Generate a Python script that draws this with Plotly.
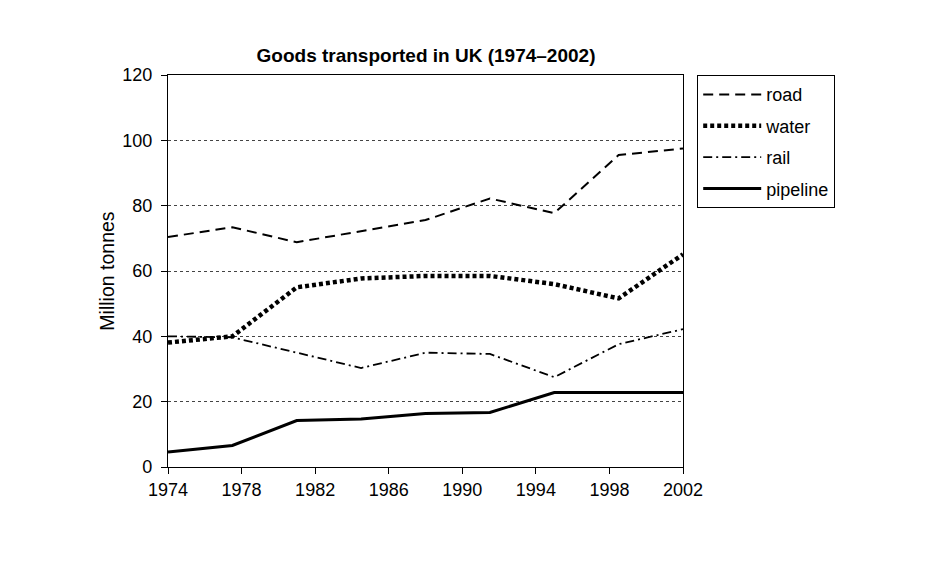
import plotly.graph_objects as go

years = [1974, 1977.5, 1981, 1984.5, 1988, 1991.5, 1995, 1998.5, 2002]
road = [70.4, 73.4, 68.8, 72.2, 75.6, 82.2, 77.7, 95.5, 97.5]
water = [38.1, 40.0, 55.0, 57.7, 58.5, 58.5, 56.0, 51.6, 65.1]
rail = [40.0, 39.7, 35.0, 30.3, 35.0, 34.6, 27.5, 37.6, 42.2]
pipeline = [4.6, 6.6, 14.2, 14.7, 16.4, 16.7, 22.8, 22.8, 22.8]

x_ticks = [1974, 1978, 1982, 1986, 1990, 1994, 1998, 2002]
y_ticks = [0, 20, 40, 60, 80, 100, 120]

FONT = "Liberation Sans, Arial, sans-serif"

fig = go.Figure()
series = [
    ("road", road, dict(color="black", width=2, dash="10px,6px")),
    ("water", water, dict(color="black", width=4.5, dash="4px,3px")),
    ("rail", rail, dict(color="black", width=1.8, dash="9px,4px,2px,4px")),
    ("pipeline", pipeline, dict(color="black", width=3)),
]
for name, vals, line in series:
    fig.add_trace(go.Scatter(x=years, y=vals, mode="lines", name=name,
                             line=line, legendgroup=name))

fig.update_layout(
    width=937, height=570,
    margin=dict(l=160, r=262, t=67, b=111, autoexpand=False),
    paper_bgcolor="white", plot_bgcolor="white",
    font=dict(family=FONT, size=18, color="black"),
    title=dict(text="<b>Goods transported in UK (1974–2002)</b>",
               x=418 / 937, xanchor="center", y=1 - 47 / 570, yanchor="middle",
               font=dict(size=19, family=FONT, color="black")),
    legend=dict(x=(689 - 160) / 515, xanchor="left", y=1.0, yanchor="top",
                bordercolor="black", borderwidth=1.2, bgcolor="white",
                traceorder="grouped", tracegroupgap=5, itemwidth=58,
                font=dict(size=18, family=FONT, color="black")),
    showlegend=True,
)
fig.update_xaxes(range=[1974, 2002], tickvals=x_ticks, ticktext=[str(t) for t in x_ticks],
                 showline=True, linecolor="black", linewidth=1.3, mirror=True,
                 ticks="outside", ticklen=6, tickcolor="black", showgrid=False,
                 zeroline=False, tickfont=dict(size=18), automargin=False)
fig.update_yaxes(range=[0, 120], tickvals=y_ticks,
                 showline=True, linecolor="black", linewidth=1.3, mirror=True,
                 ticks="outside", ticklen=6, tickcolor="black", ticklabelstandoff=5,
                 showgrid=True, gridcolor="#444", gridwidth=1, griddash="dot",
                 zeroline=False, tickfont=dict(size=18), automargin=False,
                 title=dict(text="Million tonnes", font=dict(size=19.5), standoff=2))

fig.write_html("out.html")
